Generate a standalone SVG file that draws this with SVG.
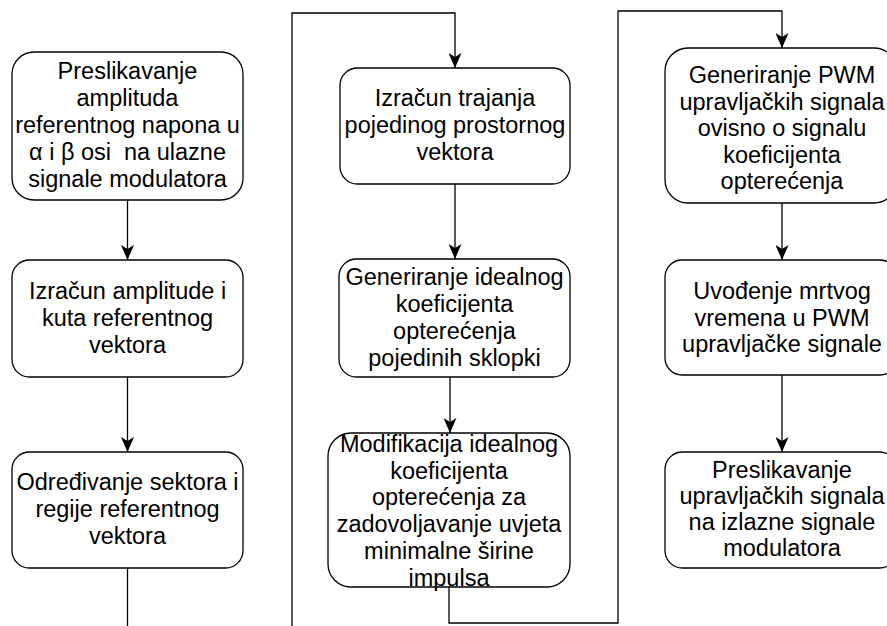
<svg xmlns="http://www.w3.org/2000/svg" width="887" height="626" viewBox="0 0 887 626">
<style>
.box{fill:#fff;stroke:#000;stroke-width:1.3}
.lbl{font-family:"Liberation Sans",Arial,sans-serif;font-size:23.5px;fill:#000;text-anchor:middle}
.edge{fill:none;stroke:#000;stroke-width:1.3}
</style>
<defs>
<marker id="arr" markerUnits="userSpaceOnUse" viewBox="0 0 15 13" refX="15" refY="6.5" markerWidth="15" markerHeight="13" orient="auto">
<path d="M0,0 L15,6.5 L0,13 L4,6.5 Z" fill="#000"/>
</marker>
</defs>
<rect width="887" height="626" fill="#fff"/>
<g id="connectors">
<path class="edge" d="M127.5,200 V260" marker-end="url(#arr)"/>
<path class="edge" d="M127.5,377 V452" marker-end="url(#arr)"/>
<path class="edge" d="M127.5,568 V626"/>
<path class="edge" d="M292,626 V13 H455 V68" marker-end="url(#arr)"/>
<path class="edge" d="M455,184 V259" marker-end="url(#arr)"/>
<path class="edge" d="M450,377 V433" marker-end="url(#arr)"/>
<path class="edge" d="M449,587 V623 H618 V11 H782 V48" marker-end="url(#arr)"/>
<path class="edge" d="M782,203 V260" marker-end="url(#arr)"/>
<path class="edge" d="M782,375 V452" marker-end="url(#arr)"/>
</g>
<g id="n1">
<rect class="box" x="12" y="52" width="231" height="148" rx="22" ry="22"/>
<text class="lbl" xml:space="preserve"><tspan x="127.5" y="79">Preslikavanje</tspan><tspan x="127.5" y="106">amplituda</tspan><tspan x="127.5" y="133">referentnog napona u</tspan><tspan x="127.5" y="160">α i β osi  na ulazne</tspan><tspan x="127.5" y="187">signale modulatora</tspan></text>
</g>
<g id="n2">
<rect class="box" x="12" y="260" width="231" height="117" rx="17.5" ry="17.5"/>
<text class="lbl"><tspan x="127.5" y="299">Izračun amplitude i</tspan><tspan x="127.5" y="326">kuta referentnog</tspan><tspan x="127.5" y="353">vektora</tspan></text>
</g>
<g id="n3">
<rect class="box" x="12" y="452" width="231" height="116" rx="17.5" ry="17.5"/>
<text class="lbl"><tspan x="127.5" y="490">Određivanje sektora i</tspan><tspan x="127.5" y="517">regije referentnog</tspan><tspan x="127.5" y="544">vektora</tspan></text>
</g>
<g id="n4">
<rect class="box" x="340" y="68" width="230" height="116" rx="17.5" ry="17.5"/>
<text class="lbl"><tspan x="455" y="106">Izračun trajanja</tspan><tspan x="455" y="133">pojedinog prostornog</tspan><tspan x="455" y="160">vektora</tspan></text>
</g>
<g id="n5">
<rect class="box" x="339" y="259" width="231" height="118" rx="17.5" ry="17.5"/>
<text class="lbl"><tspan x="454.5" y="285">Generiranje idealnog</tspan><tspan x="454.5" y="312">koeficijenta</tspan><tspan x="454.5" y="339">opterećenja</tspan><tspan x="454.5" y="366">pojedinih sklopki</tspan></text>
</g>
<g id="n6">
<rect class="box" x="328" y="433" width="242" height="154" rx="23" ry="23"/>
<text class="lbl"><tspan x="449" y="452">Modifikacija idealnog</tspan><tspan x="449" y="478.7">koeficijenta</tspan><tspan x="449" y="505.4">opterećenja za</tspan><tspan x="449" y="532.1">zadovoljavanje uvjeta</tspan><tspan x="449" y="558.8">minimalne širine</tspan><tspan x="449" y="585.5">impulsa</tspan></text>
</g>
<g id="n7">
<rect class="box" x="665" y="48" width="232" height="155" rx="23" ry="23"/>
<text class="lbl"><tspan x="782" y="83">Generiranje PWM</tspan><tspan x="782" y="109.5">upravljačkih signala</tspan><tspan x="782" y="136">ovisno o signalu</tspan><tspan x="782" y="162.5">koeficijenta</tspan><tspan x="782" y="189">opterećenja</tspan></text>
</g>
<g id="n8">
<rect class="box" x="665" y="260" width="232" height="115" rx="17" ry="17"/>
<text class="lbl"><tspan x="782" y="299">Uvođenje mrtvog</tspan><tspan x="782" y="325.5">vremena u PWM</tspan><tspan x="782" y="352">upravljačke signale</tspan></text>
</g>
<g id="n9">
<rect class="box" x="665" y="452" width="232" height="116" rx="17.5" ry="17.5"/>
<text class="lbl"><tspan x="782" y="478">Preslikavanje</tspan><tspan x="782" y="504">upravljačkih signala</tspan><tspan x="782" y="530">na izlazne signale</tspan><tspan x="782" y="556">modulatora</tspan></text>
</g>
</svg>
